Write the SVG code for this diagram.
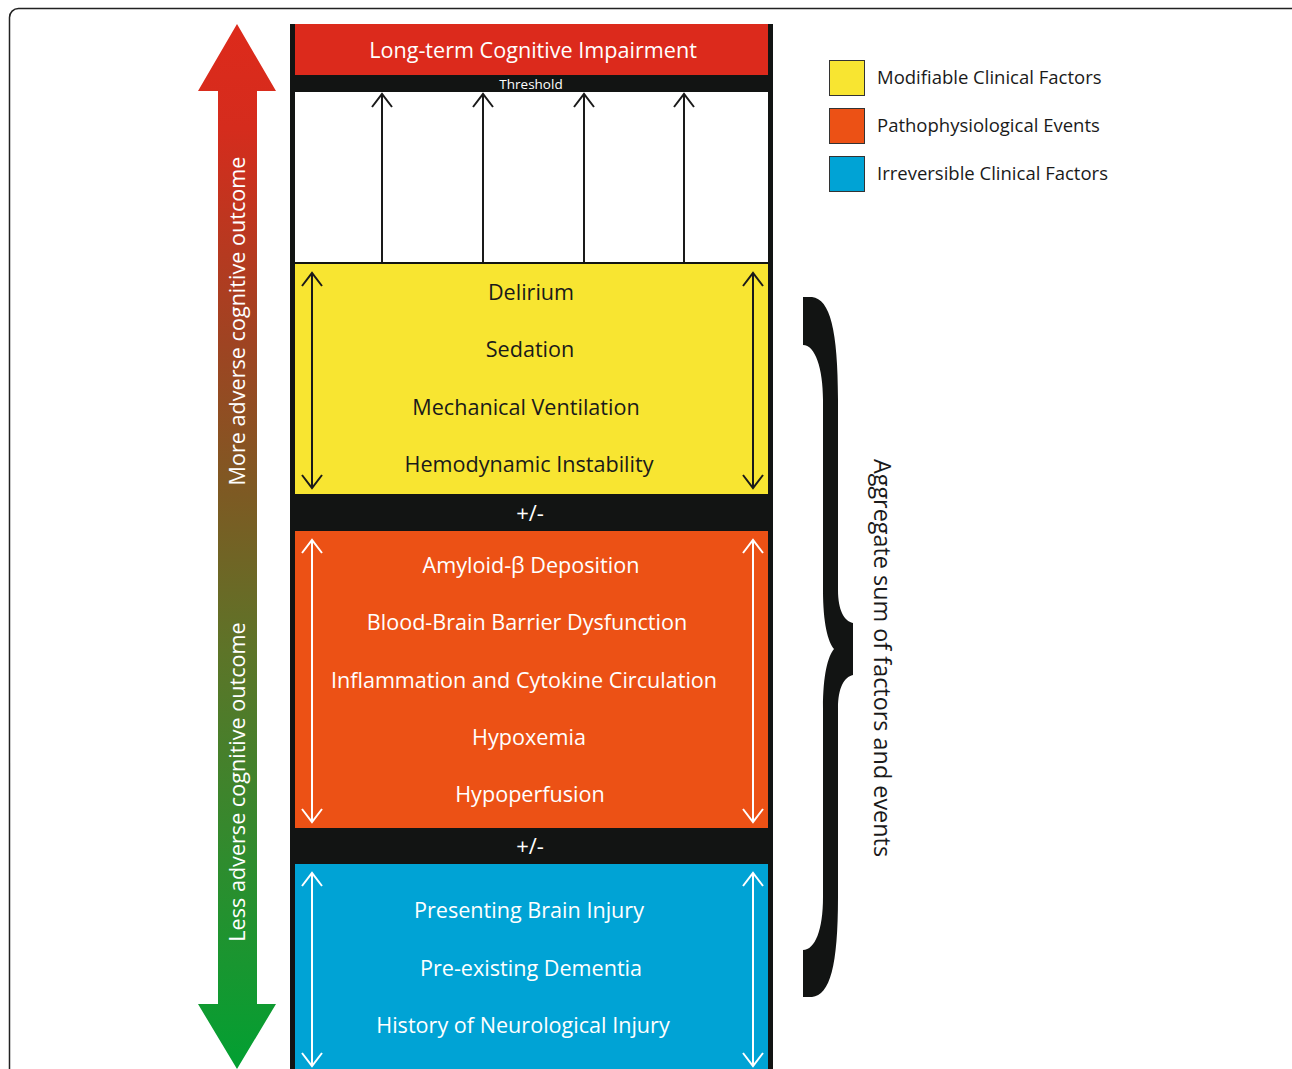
<svg xmlns="http://www.w3.org/2000/svg" width="1292" height="1069" viewBox="0 0 1292 1069">
<style>
.t{font-family:"Open Sans","Noto Sans",sans-serif;font-size:21.6px;text-anchor:middle}
.w{fill:#ffffff}
.k{fill:#1a1a1a}
.lg{font-family:"Open Sans","Noto Sans",sans-serif;font-size:18.5px;fill:#1a1a1a}
.ak{stroke:#1a1a1a;stroke-width:2;fill:none}
.aw{stroke:#ffffff;stroke-width:2;fill:none}
</style>
<defs>
<linearGradient id="g" x1="0" y1="24" x2="0" y2="1069" gradientUnits="userSpaceOnUse">
<stop offset="0" stop-color="#dd2a1b"/>
<stop offset="0.1" stop-color="#d52c1d"/>
<stop offset="0.3" stop-color="#a04322"/>
<stop offset="0.45" stop-color="#7d5a23"/>
<stop offset="0.6" stop-color="#5d7428"/>
<stop offset="0.8" stop-color="#2f8c2e"/>
<stop offset="1" stop-color="#02a032"/>
</linearGradient>
<marker id="hk" viewBox="0 0 16 22" refX="14" refY="11" markerWidth="16" markerHeight="22" markerUnits="userSpaceOnUse" orient="auto-start-reverse">
<path d="M1,1 L14,11 L1,21" fill="none" stroke="#1a1a1a" stroke-width="2"/>
</marker>
<marker id="hw" viewBox="0 0 16 22" refX="14" refY="11" markerWidth="16" markerHeight="22" markerUnits="userSpaceOnUse" orient="auto-start-reverse">
<path d="M1,1 L14,11 L1,21" fill="none" stroke="#ffffff" stroke-width="2"/>
</marker>
</defs>
<rect x="9.5" y="8.5" width="1290" height="1100" rx="9" fill="#ffffff" stroke="#222222" stroke-width="1.5"/>

<g id="gradient-arrow">
<polygon points="237,24 276,91 257,91 257,1004 276,1004 237,1069 198,1004 218,1004 218,91 198,91" fill="url(#g)"/>
<text class="t w" transform="translate(245,321) rotate(-90)">More adverse cognitive outcome</text>
<text class="t w" transform="translate(245,782) rotate(-90)">Less adverse cognitive outcome</text>
</g>

<g id="column">
<rect x="290" y="24" width="483" height="1060" fill="#121413"/>
</g>

<g id="impairment">
<rect x="295" y="24" width="473" height="51" fill="#dc2a1c"/>
<text class="t w" x="533" y="58">Long-term Cognitive Impairment</text>
</g>
<g id="threshold">
<text class="t w" x="531" y="89" style="font-size:13.5px">Threshold</text>
</g>
<g id="accumulation">
<rect x="295" y="92" width="473" height="170" fill="#ffffff"/>
</g>

<g id="modifiable">
<rect x="295" y="264" width="473" height="230" fill="#f8e531"/>
<text class="t k" x="531" y="300">Delirium</text>
<text class="t k" x="530" y="357">Sedation</text>
<text class="t k" x="526" y="415">Mechanical Ventilation</text>
<text class="t k" x="529" y="472">Hemodynamic Instability</text>
</g>
<g id="pm1"><text class="t w" x="530" y="521" style="font-size:22px">+/-</text></g>

<g id="pathophysiological">
<rect x="295" y="531" width="473" height="297" fill="#ec5115"/>
<text class="t w" x="531" y="573">Amyloid-β Deposition</text>
<text class="t w" x="527" y="630">Blood-Brain Barrier Dysfunction</text>
<text class="t w" x="524" y="688">Inflammation and Cytokine Circulation</text>
<text class="t w" x="529" y="745">Hypoxemia</text>
<text class="t w" x="530" y="802">Hypoperfusion</text>
</g>
<g id="pm2"><text class="t w" x="530" y="854" style="font-size:22px">+/-</text></g>

<g id="irreversible">
<rect x="295" y="864" width="473" height="220" fill="#00a3d5"/>
<text class="t w" x="529" y="918">Presenting Brain Injury</text>
<text class="t w" x="531" y="976">Pre-existing Dementia</text>
<text class="t w" x="523" y="1033">History of Neurological Injury</text>
</g>

<g id="connectors">
<line class="ak" x1="382" y1="262" x2="382" y2="94" marker-end="url(#hk)"/>
<line class="ak" x1="483" y1="262" x2="483" y2="94" marker-end="url(#hk)"/>
<line class="ak" x1="584" y1="262" x2="584" y2="94" marker-end="url(#hk)"/>
<line class="ak" x1="684" y1="262" x2="684" y2="94" marker-end="url(#hk)"/>
<line class="ak" x1="312" y1="273" x2="312" y2="488" marker-start="url(#hk)" marker-end="url(#hk)"/>
<line class="ak" x1="753" y1="273" x2="753" y2="488" marker-start="url(#hk)" marker-end="url(#hk)"/>
<line class="aw" x1="312" y1="540" x2="312" y2="822" marker-start="url(#hw)" marker-end="url(#hw)"/>
<line class="aw" x1="753" y1="540" x2="753" y2="822" marker-start="url(#hw)" marker-end="url(#hw)"/>
<line class="aw" x1="312" y1="873" x2="312" y2="1066" marker-start="url(#hw)" marker-end="url(#hw)"/>
<line class="aw" x1="753" y1="873" x2="753" y2="1066" marker-start="url(#hw)" marker-end="url(#hw)"/>
</g>

<g id="brace">
<path d="M803,297 L812,297 C830,299 838,330 838,400 L838,590 C838,610 844,621 853,623 L853,675 C844,677 838,688 838,708 L838,897 C838,966 830,995 812,997 L803,997 L803,950 C815,950 823,930 823,897 L823,708 C823,675 828,656 834,649 C828,642 823,623 823,590 L823,400 C823,368 815,345 803,345 Z" fill="#121413"/>
<text class="t k" transform="translate(874,658) rotate(90)" style="font-size:23.4px">Aggregate sum of factors and events</text>
</g>

<g id="legend">
<rect x="829.5" y="60.5" width="35" height="35" fill="#f8e531" stroke="#333" stroke-width="1"/>
<text class="lg" x="877" y="84">Modifiable Clinical Factors</text>
<rect x="829.5" y="108.5" width="35" height="35" fill="#ec5115" stroke="#333" stroke-width="1"/>
<text class="lg" x="877" y="132">Pathophysiological Events</text>
<rect x="829.5" y="156.5" width="35" height="35" fill="#00a3d5" stroke="#333" stroke-width="1"/>
<text class="lg" x="877" y="180">Irreversible Clinical Factors</text>
</g>
</svg>
